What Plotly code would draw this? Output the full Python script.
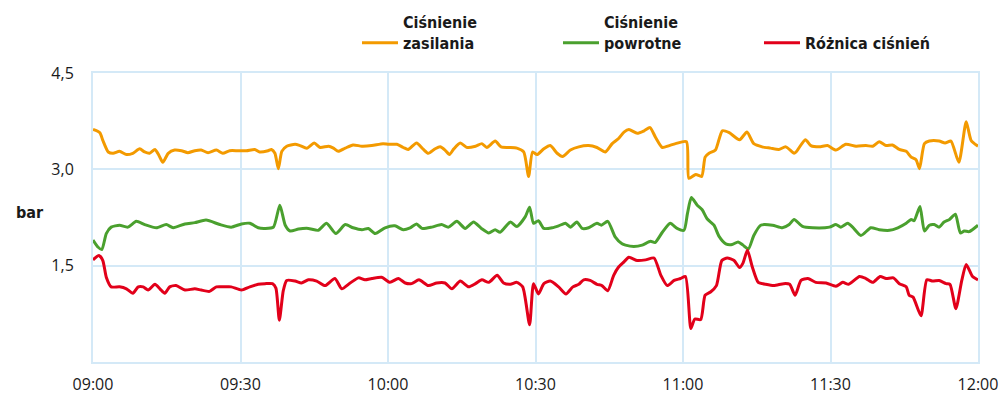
import pandas as pd
import plotly.graph_objects as go

# minutes after 09:00 and values (bar)
supply_min = [0, 1.4, 2.0, 3.1, 4.1, 5.4, 6.8, 8.1, 9.5, 10.5, 11.5, 12.6, 13.4, 14.2, 15.3, 16.6, 18.0, 19.3,
              20.7, 22.0, 23.4, 25.1, 26.4, 27.8, 29.5, 31.2, 32.9, 33.9, 35.6, 36.3, 37.0, 37.7, 38.4, 39.4,
              41.1, 42.1, 43.5, 45.0, 46.2, 47.9, 48.9, 49.9, 51.3, 52.9, 54.7, 56.7, 59.0, 60.1, 61.8, 63.1,
              64.1, 65.8, 67.2, 68.2, 69.6, 70.6, 71.6, 72.5, 73.4, 74.7, 76.1, 77.8, 79.1, 80.1, 81.8, 83.0,
              84.5, 86.2, 87.6, 88.6, 89.4, 90.3, 91.7, 93.0, 94.4, 95.5, 97.1, 98.8, 100.8, 102.5, 104.2,
              105.6, 106.9, 108.0, 109.0, 110.7, 112.1, 113.3, 114.4, 115.8, 117.2, 118.5, 120.7, 121.2,
              122.6, 123.8, 124.5, 125.3, 126.6, 128.0, 129.4, 131.5, 133.0, 134.4, 136.1, 137.8, 139.5,
              140.9, 142.6, 143.0, 144.9, 146.0, 147.7, 149.4, 151.1, 153.1, 155.2, 157.2, 158.6, 159.9,
              161.3, 162.6, 164.0, 165.4, 166.4, 167.4, 168.1, 169.1, 170.1, 172.1, 173.3, 174.5, 176.1,
              177.6, 178.6, 180.0]
supply_val = [3.62, 3.57, 3.45, 3.27, 3.25, 3.28, 3.23, 3.25, 3.32, 3.27, 3.25, 3.31, 3.22, 3.11, 3.25, 3.30, 3.29,
              3.26, 3.29, 3.30, 3.26, 3.30, 3.25, 3.29, 3.29, 3.29, 3.31, 3.27, 3.29, 3.31, 3.25, 3.01, 3.28,
              3.36, 3.39, 3.37, 3.33, 3.41, 3.34, 3.36, 3.33, 3.28, 3.33, 3.38, 3.36, 3.37, 3.40, 3.39, 3.39,
              3.34, 3.31, 3.41, 3.31, 3.25, 3.32, 3.35, 3.30, 3.23, 3.32, 3.41, 3.34, 3.36, 3.40, 3.34, 3.44,
              3.35, 3.34, 3.33, 3.27, 2.89, 3.27, 3.23, 3.32, 3.37, 3.25, 3.20, 3.30, 3.35, 3.37, 3.34, 3.27,
              3.40, 3.48, 3.58, 3.62, 3.56, 3.60, 3.65, 3.50, 3.34, 3.37, 3.40, 3.43, 2.86, 2.92, 2.89, 3.19,
              3.25, 3.30, 3.60, 3.57, 3.46, 3.58, 3.40, 3.35, 3.33, 3.31, 3.35, 3.25, 3.27, 3.46, 3.37, 3.35,
              3.37, 3.30, 3.39, 3.36, 3.37, 3.36, 3.43, 3.37, 3.38, 3.31, 3.28, 3.19, 3.15, 3.01, 3.40, 3.44,
              3.44, 3.41, 3.44, 3.11, 3.74, 3.45, 3.36]

return_min = [0, 1.0, 1.8, 2.7, 3.7, 5.4, 7.1, 8.8, 10.5, 12.9, 14.9, 16.3, 18.7, 20.7, 23.0, 25.8, 28.1, 30.2,
              31.9, 33.6, 35.0, 36.7, 38.0, 39.1, 40.1, 41.8, 43.8, 45.8, 47.5, 49.4, 51.3, 52.9, 54.7, 56.0,
              57.4, 59.4, 61.4, 63.1, 64.5, 65.8, 66.9, 68.9, 70.9, 72.3, 74.0, 75.7, 77.4, 79.0, 80.5, 81.8,
              82.8, 84.9, 86.2, 87.9, 88.8, 89.6, 90.6, 91.7, 93.4, 94.7, 96.1, 97.1, 98.4, 99.5, 100.8,
              102.5, 103.4, 104.7, 106.2, 107.6, 108.3, 110.0, 111.7, 113.4, 114.3, 115.8, 117.4, 118.8,
              120.2, 120.9, 121.7, 122.9, 123.9, 124.9, 126.3, 127.3, 128.7, 130.0, 131.2, 132.2, 133.3,
              134.4, 135.8, 138.2, 140.2, 141.6, 142.6, 144.3, 146.4, 149.8, 151.1, 152.1, 153.5, 154.5,
              156.2, 158.2, 159.9, 162.0, 163.7, 165.4, 166.4, 167.0, 168.2, 169.1, 170.1, 171.1, 172.1,
              173.1, 174.2, 175.4, 176.4, 177.2, 178.2, 180.0]
return_val = [1.90, 1.79, 1.75, 2.00, 2.10, 2.13, 2.10, 2.19, 2.14, 2.09, 2.14, 2.09, 2.15, 2.17, 2.21, 2.14, 2.10,
              2.15, 2.16, 2.09, 2.08, 2.10, 2.44, 2.13, 2.04, 2.07, 2.08, 2.05, 2.16, 2.00, 2.14, 2.09, 2.06,
              2.08, 2.00, 2.09, 2.12, 2.06, 2.09, 2.15, 2.08, 2.10, 2.14, 2.10, 2.19, 2.08, 2.18, 2.08, 2.01,
              2.06, 2.02, 2.18, 2.11, 2.26, 2.41, 2.16, 2.20, 2.08, 2.09, 2.12, 2.16, 2.10, 2.18, 2.08, 2.09,
              2.16, 2.13, 2.19, 1.95, 1.84, 1.82, 1.80, 1.82, 1.88, 1.86, 2.02, 2.16, 2.08, 2.05, 2.31, 2.56,
              2.44, 2.37, 2.23, 2.13, 1.96, 1.84, 1.83, 1.87, 1.82, 1.76, 1.97, 2.13, 2.13, 2.09, 2.14, 2.22,
              2.11, 2.09, 2.10, 2.14, 2.10, 2.16, 2.10, 1.97, 2.09, 2.06, 2.05, 2.09, 2.16, 2.22, 2.20, 2.42,
              2.04, 2.13, 2.14, 2.10, 2.18, 2.22, 2.30, 2.01, 2.04, 2.03, 2.13]

diff_min = [0, 1.2, 2.0, 2.7, 3.7, 5.4, 6.8, 8.1, 9.2, 10.2, 11.2, 12.6, 13.6, 14.6, 15.6, 16.9, 18.7, 20.7,
            22.0, 23.7, 25.1, 26.8, 28.1, 30.2, 31.9, 33.6, 35.0, 36.5, 37.2, 37.9, 38.7, 39.4, 41.1, 42.4,
            43.8, 45.5, 47.2, 49.2, 50.6, 52.3, 54.0, 55.3, 56.7, 58.7, 60.4, 62.1, 63.5, 64.8, 66.3, 68.2,
            69.9, 71.6, 73.0, 74.7, 76.4, 77.8, 79.1, 80.5, 82.2, 83.5, 84.9, 86.2, 87.4, 88.8, 89.6, 90.6,
            91.7, 93.0, 94.7, 96.2, 97.6, 98.8, 99.8, 101.1, 102.5, 103.5, 104.7, 105.9, 106.9, 108.0,
            109.0, 110.7, 112.4, 114.1, 115.5, 116.8, 118.2, 119.5, 120.5, 121.6, 122.4, 123.6, 124.5,
            125.6, 126.8, 127.9, 129.0, 130.4, 131.5, 132.2, 133.1, 134.1, 135.3, 136.8, 138.5, 140.5,
            141.7, 142.8, 144.0, 145.4, 147.0, 149.1, 151.1, 152.5, 153.7, 155.9, 157.2, 158.6, 160.1,
            161.3, 162.8, 164.0, 165.4, 166.0, 166.8, 168.4, 169.6, 170.8, 172.1, 173.5, 174.3, 175.5,
            176.7, 177.6, 178.9, 180.0]
diff_val = [1.59, 1.66, 1.58, 1.32, 1.17, 1.17, 1.14, 1.07, 1.17, 1.17, 1.12, 1.21, 1.14, 1.07, 1.17, 1.19, 1.12,
            1.14, 1.12, 1.10, 1.17, 1.17, 1.17, 1.12, 1.17, 1.21, 1.22, 1.22, 1.15, 0.65, 1.11, 1.27, 1.26,
            1.23, 1.28, 1.26, 1.19, 1.30, 1.14, 1.23, 1.31, 1.28, 1.30, 1.32, 1.24, 1.30, 1.23, 1.22, 1.28,
            1.19, 1.23, 1.23, 1.14, 1.26, 1.17, 1.22, 1.28, 1.24, 1.35, 1.23, 1.21, 1.24, 1.17, 0.58, 1.22,
            1.06, 1.22, 1.26, 1.17, 1.06, 1.17, 1.21, 1.28, 1.27, 1.21, 1.19, 1.11, 1.35, 1.48, 1.56, 1.63,
            1.58, 1.59, 1.62, 1.35, 1.19, 1.27, 1.30, 1.33, 0.52, 0.67, 0.66, 1.04, 1.09, 1.19, 1.58, 1.62,
            1.58, 1.47, 1.54, 1.74, 1.48, 1.24, 1.21, 1.19, 1.22, 1.21, 1.04, 1.27, 1.30, 1.24, 1.23, 1.18,
            1.24, 1.21, 1.33, 1.30, 1.24, 1.33, 1.30, 1.31, 1.22, 1.17, 1.04, 1.01, 0.72, 1.28, 1.26, 1.27,
            1.22, 1.21, 0.83, 1.27, 1.52, 1.33, 1.28]

series_names = ["Ciśnienie<br>zasilania", "Ciśnienie<br>powrotne", " <br>Różnica ciśnień"]
series_colors = ["#F39A00", "#4AA02E", "#E2001A"]
y_tick_vals = [1.5, 3.0, 4.5]
y_tick_text = ["1,5", "3,0", "4,5"]
x_tick_labels = ["09:00", "09:30", "10:00", "10:30", "11:00", "11:30", "12:00"]

base = pd.Timestamp("2024-01-01 09:00")


def to_time(mins):
    return [base + pd.Timedelta(minutes=m) for m in mins]


fig = go.Figure()
for name, color, xs, ys in zip(series_names, series_colors,
                               [supply_min, return_min, diff_min],
                               [supply_val, return_val, diff_val]):
    fig.add_trace(go.Scatter(x=to_time(xs), y=ys, mode="lines", name=name,
                             line=dict(color=color, width=3, shape="spline", smoothing=0.6)))

grid = "#D4E9F7"
tick_font = dict(family="Open Sans", size=16, color="#1a1a1a")
x_ticks = to_time([0, 30, 60, 90, 120, 150, 180])
fig.update_xaxes(range=[x_ticks[0], x_ticks[-1]], tickvals=x_ticks, ticktext=x_tick_labels,
                 showgrid=True, gridcolor=grid, gridwidth=2, showline=True, linecolor=grid, linewidth=2,
                 mirror=True, zeroline=False, ticks="", ticklabelstandoff=7, tickfont=tick_font)
fig.update_yaxes(range=[0, 4.5], tickvals=y_tick_vals, ticktext=y_tick_text,
                 showgrid=True, gridcolor=grid, gridwidth=2, showline=True, linecolor=grid, linewidth=2,
                 mirror=True, zeroline=False, ticks="", ticklabelstandoff=14, tickfont=tick_font)

legend_font = dict(family="Liberation Sans Narrow, DejaVu Sans Condensed, sans-serif", size=16,
                   color="#1a1a1a", weight="bold")

fig.add_annotation(text="<b>bar</b>", xref="paper", yref="paper", x=-0.0712, y=0.516,
                   xanchor="center", yanchor="middle", showarrow=False, font=legend_font)

fig.update_layout(
    width=1001, height=401,
    margin=dict(l=93, r=23, t=73, b=39, autoexpand=False),
    paper_bgcolor="white", plot_bgcolor="white",
    showlegend=True,
    legend=dict(orientation="h", x=0.2983, y=1.235, xanchor="left", yanchor="top",
                valign="bottom", itemwidth=36, entrywidth=150, traceorder="normal",
                font=legend_font),
)

# remove the page's default body margin so the figure fills the window exactly
fig.write_html("out.html", config={"displayModeBar": False},
               post_script="document.body.style.margin='0';document.body.style.overflow='hidden';")
